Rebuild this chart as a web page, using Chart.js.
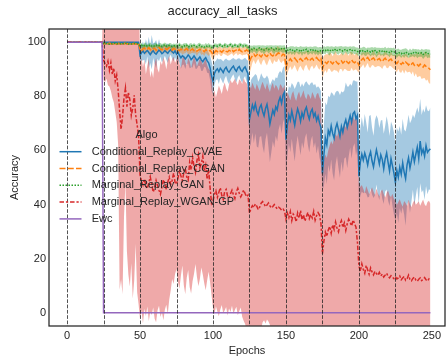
<!DOCTYPE html>
<html>
<head>
<meta charset="utf-8">
<script src="https://cdn.jsdelivr.net/npm/chart.js@4.4.0/dist/chart.umd.min.js"></script>
<style>
html, body { margin: 0; padding: 0; background: #fff; }
</style>
</head>
<body>
<canvas id="accChart" width="446" height="358"></canvas>
<script>
// Values (one value per epoch, rows of 25 epochs)
const algoNames = ['Conditional_Replay_CVAE', 'Conditional_Replay_CGAN', 'Marginal_Replay_GAN', 'Marginal_Replay_WGAN-GP', 'Ewc'];
const xTicks = [0, 50, 100, 150, 200, 250];
const yTicks = [0, 20, 40, 60, 80, 100];
const taskBoundaries = [0, 25, 50, 75, 100, 125, 150, 175, 200, 225];

const cvaeMean = [
  100,100,100,100,100,100,100,100,100,100,100,100,100,100,100,100,100,100,100,100,100,100,100,100,100,
  100,100,100,100,100,100,100,100,100,100,100,100,100,100,100,100,100,100,100,100,100,100,100,100,100,
  95.2,96.1,96.8,95.9,96.5,97.0,96.2,95.4,96.3,96.9,96.0,95.6,96.4,97.1,96.6,95.8,96.2,96.9,96.4,95.9,96.7,97.2,96.5,96.0,96.8,
  95.6,96.3,95.1,94.2,95.0,94.6,93.8,94.5,95.3,94.7,93.6,94.2,95.0,94.1,93.2,93.9,94.6,93.5,92.8,93.7,94.3,93.1,92.4,90.6,87.5,
  85.6,88.5,89.6,90.2,89.1,90.4,89.7,88.8,90.1,90.8,89.5,88.9,89.8,90.6,91.2,90.0,89.3,90.5,91.0,89.8,89.2,90.3,90.9,89.6,88.4,
  71.5,74.2,76.8,75.1,77.3,74.6,73.2,75.8,76.9,74.4,72.8,75.5,77.1,73.9,69.8,72.4,74.9,73.3,76.2,75.0,78.1,79.6,77.4,80.5,81.6,
  64.0,69.5,73.1,71.2,74.6,72.0,69.3,72.8,75.4,73.6,70.8,73.9,72.1,74.8,76.0,73.4,71.6,74.2,75.3,72.5,73.8,71.0,72.7,70.2,68.4,
  51.5,58.3,64.6,62.1,67.4,65.8,69.1,66.3,64.5,68.2,70.0,67.6,65.2,68.9,66.7,69.6,71.3,68.5,70.7,72.9,70.4,73.6,74.3,71.8,73.0,
  50.5,55.8,58.6,56.4,59.0,57.2,54.6,57.8,59.5,56.1,53.9,57.3,60.2,57.6,55.0,58.4,56.7,53.2,56.9,59.1,55.6,52.4,57.0,54.3,51.5,
  48.2,52.6,50.1,53.8,51.2,55.4,52.0,49.6,54.7,57.3,53.5,56.2,59.4,55.8,58.6,61.2,57.0,63.5,58.8,60.4,57.9,61.8,59.3,60.1,60.6
];
const cvaeSd = [
  0,0,0,0,0,0,0,0,0,0,0,0,0,0,0,0,0,0,0,0,0,0,0,0,0,
  0,0,0,0,0,0,0,0,0,0,0,0,0,0,0,0,0,0,0,0,0,0,0,0,0,
  2.1,2.8,3.5,2.4,4.6,2.2,5.8,3.1,6.4,2.7,3.9,5.2,2.5,4.1,2.0,3.3,2.6,1.9,2.8,3.6,2.2,1.8,2.5,3.0,2.3,
  2.4,3.1,2.6,4.0,3.4,2.8,3.7,2.5,3.2,4.3,2.9,3.5,2.7,3.9,3.0,2.6,3.4,4.1,3.3,2.8,3.6,4.4,3.8,4.6,5.5,
  5.0,4.2,3.6,3.9,4.5,3.4,3.8,4.1,3.5,3.2,3.9,4.4,3.6,3.3,3.0,3.7,4.2,3.5,3.1,3.8,4.3,3.6,3.4,4.0,4.8,
  10.5,11.8,10.2,12.4,11.0,13.1,12.2,10.8,11.6,12.9,13.8,11.4,10.6,12.7,14.2,13.0,11.5,12.3,10.9,11.7,10.4,9.8,11.2,10.1,9.6,
  12.8,11.4,10.6,11.9,10.3,12.1,13.4,11.2,10.0,11.8,12.6,10.9,11.5,10.2,9.6,11.3,12.4,10.7,9.9,11.6,10.8,12.2,11.0,12.9,13.5,
  6.0,11.5,13.2,14.6,12.8,13.9,12.4,14.8,15.6,13.3,12.1,14.2,15.3,13.0,14.7,12.6,13.8,15.1,12.9,11.8,13.5,12.3,11.6,13.7,12.5,
  10.0,12.6,13.8,12.2,14.5,13.1,12.0,14.9,13.6,12.4,11.5,13.9,12.8,14.1,13.3,12.7,14.6,13.0,12.1,13.5,14.2,12.9,13.7,14.8,15.2,
  14.1,15.8,16.9,15.2,14.6,16.3,15.7,17.4,14.8,15.9,16.6,15.1,13.9,16.2,15.4,14.7,16.8,15.6,14.3,15.0,16.1,14.9,15.5,14.4,15.3
];

const cganMean = [
  100,100,100,100,100,100,100,100,100,100,100,100,100,100,100,100,100,100,100,100,100,100,100,100,100,
  99.5,99.6,99.4,99.5,99.7,99.5,99.4,99.6,99.5,99.3,99.6,99.5,99.4,99.6,99.5,99.7,99.4,99.5,99.6,99.3,99.5,99.6,99.4,99.5,99.6,
  97.2,96.8,97.6,97.9,97.1,97.4,98.0,97.3,96.9,97.5,97.8,97.0,97.6,98.1,97.4,97.2,97.7,97.9,97.3,97.6,98.0,97.5,97.1,97.8,97.4,
  97.6,97.2,96.9,97.5,97.1,96.8,97.3,97.7,97.0,96.6,97.2,97.5,96.9,97.3,96.7,97.1,97.4,96.8,97.0,96.5,97.2,96.9,96.6,97.0,96.3,
  95.4,96.2,96.9,96.5,97.1,96.7,96.3,96.9,97.2,96.6,96.4,97.0,96.8,97.3,96.5,96.9,97.1,96.6,97.4,96.8,96.5,97.0,96.7,97.2,96.9,
  92.8,94.1,95.0,95.6,94.8,95.3,95.9,95.1,94.6,95.4,95.8,95.0,94.7,95.5,96.0,95.2,94.9,95.6,95.1,95.7,96.1,95.3,95.0,95.6,95.4,
  90.6,92.4,93.2,93.9,93.1,93.6,94.2,93.4,92.8,93.5,94.0,93.3,92.9,93.8,94.3,93.5,93.0,93.7,94.1,93.4,93.8,94.4,93.6,93.2,93.9,
  90.2,91.8,92.6,92.1,92.9,93.3,92.5,92.0,92.8,93.2,92.4,91.9,92.7,93.1,92.3,92.8,93.4,92.6,92.2,92.9,93.5,92.7,92.4,93.0,92.6,
  91.5,92.9,93.6,94.1,93.3,93.8,94.4,93.5,93.0,93.9,94.2,93.4,93.1,93.7,94.0,93.2,92.8,93.6,94.1,93.3,92.9,93.5,93.8,93.0,92.7,
  92.6,92.1,92.9,92.4,91.8,92.5,92.0,92.7,92.2,91.6,92.3,91.9,92.4,91.5,92.0,91.7,91.2,91.9,91.4,90.8,91.6,91.1,90.7,90.4,89.8
];
const cganSd = [
  0,0,0,0,0,0,0,0,0,0,0,0,0,0,0,0,0,0,0,0,0,0,0,0,0,
  0.4,0.5,0.3,0.4,0.5,0.4,0.3,0.5,0.4,0.4,0.5,0.3,0.4,0.5,0.4,0.3,0.4,0.5,0.4,0.3,0.5,0.4,0.4,0.5,0.3,
  1.6,1.2,1.0,1.4,1.8,1.1,0.9,1.3,1.5,1.0,1.2,1.7,1.1,0.9,1.4,1.2,1.0,1.3,1.6,1.1,0.9,1.2,1.4,1.0,1.3,
  1.2,1.5,1.1,1.3,1.7,1.0,1.4,1.2,1.6,1.1,1.3,1.5,1.0,1.4,1.8,1.2,1.1,1.5,1.3,1.6,1.2,1.4,1.7,1.3,1.9,
  2.2,1.6,1.3,1.5,1.2,1.7,1.4,1.1,1.6,1.3,1.5,1.8,1.2,1.4,1.6,1.3,1.1,1.5,1.7,1.2,1.4,1.6,1.3,1.5,1.8,
  4.5,3.8,2.6,2.2,2.9,2.4,2.0,2.7,3.1,2.3,2.1,2.8,3.3,2.5,2.0,2.6,3.0,2.2,2.4,2.9,2.1,2.5,2.7,2.3,2.6,
  4.6,3.9,3.2,2.8,3.4,3.0,2.6,3.3,3.7,2.9,2.7,3.1,3.5,2.8,2.5,3.2,3.6,2.9,2.7,3.3,3.0,2.6,3.1,3.4,2.8,
  3.8,3.2,2.9,3.5,2.7,3.1,3.4,2.8,3.0,3.6,2.9,3.3,2.6,3.0,3.2,2.7,3.4,3.1,2.8,3.5,2.9,3.2,2.7,3.0,3.3,
  2.8,2.4,2.6,2.2,2.9,2.5,2.1,2.7,2.4,2.3,2.8,2.6,2.2,2.5,2.9,2.4,2.7,2.3,2.6,2.8,2.5,2.2,2.7,2.4,2.6,
  2.9,3.3,2.7,3.5,3.1,2.8,3.6,3.0,3.4,2.6,3.2,3.8,3.1,4.2,3.5,4.6,3.9,4.4,5.0,4.1,4.8,5.3,4.5,5.6,5.1
];

const ganMean = [
  100,100,100,100,100,100,100,100,100,100,100,100,100,100,100,100,100,100,100,100,100,100,100,100,100,
  99.5,99.4,99.6,99.5,99.3,99.6,99.4,99.5,99.7,99.4,99.5,99.6,99.3,99.5,99.4,99.6,99.5,99.3,99.6,99.4,99.5,99.6,99.4,99.5,99.3,
  98.6,98.9,98.4,98.8,99.0,98.5,98.7,99.1,98.6,98.3,98.8,99.0,98.5,98.7,98.9,98.4,98.8,99.1,98.6,98.5,98.9,98.7,98.4,98.8,98.6,
  98.7,98.4,98.9,98.6,98.3,98.8,98.5,98.9,98.2,98.6,98.7,98.4,98.8,98.5,98.3,98.7,98.9,98.4,98.6,98.2,98.7,98.5,98.8,98.4,98.1,
  98.3,98.7,98.9,98.5,98.8,99.0,98.6,98.4,98.9,98.7,98.5,98.8,99.1,98.6,98.4,98.9,98.7,98.5,98.8,99.0,98.6,98.7,98.9,98.5,98.3,
  97.1,97.6,97.3,97.8,97.5,97.2,97.7,97.9,97.4,97.6,97.1,97.5,97.8,97.3,97.6,97.9,97.4,97.2,97.7,97.5,97.3,97.8,97.6,97.4,97.7,
  96.6,97.1,96.8,97.3,96.9,97.2,96.7,97.4,97.0,96.8,97.3,96.6,97.1,96.9,97.4,96.7,97.0,97.2,96.8,97.3,96.9,97.1,96.6,97.0,96.8,
  96.8,97.2,96.9,97.4,97.0,96.7,97.3,97.1,96.8,97.5,97.0,96.9,97.3,97.2,96.7,97.1,97.4,96.9,97.0,97.3,96.8,97.2,97.0,96.9,96.6,
  96.4,96.8,96.5,97.0,96.6,96.3,96.9,96.7,96.4,96.8,96.5,96.9,96.2,96.6,96.8,96.4,96.7,96.3,96.9,96.5,96.6,96.2,96.7,96.4,96.5,
  96.1,95.8,96.3,96.0,95.7,96.2,95.9,96.4,96.0,95.6,96.1,95.8,96.3,95.9,96.2,95.7,96.0,95.8,96.1,95.5,95.9,96.2,95.7,95.9,95.6
];
const ganSd = [
  0,0,0,0,0,0,0,0,0,0,0,0,0,0,0,0,0,0,0,0,0,0,0,0,0,
  0.3,0.4,0.3,0.4,0.3,0.4,0.3,0.4,0.3,0.4,0.3,0.4,0.3,0.4,0.3,0.4,0.3,0.4,0.3,0.4,0.3,0.4,0.3,0.4,0.3,
  0.8,0.9,0.7,1.0,0.8,0.6,0.9,0.8,0.7,1.0,0.9,0.8,0.7,0.9,0.8,1.0,0.7,0.8,0.9,0.7,0.8,1.0,0.9,0.7,0.8,
  0.9,0.8,1.0,0.7,0.9,0.8,1.1,0.8,0.7,0.9,1.0,0.8,0.9,0.7,0.8,1.0,0.9,0.8,0.7,0.9,1.0,0.8,0.9,0.8,1.0,
  0.7,0.8,0.6,0.9,0.7,0.8,0.6,0.7,0.9,0.8,0.7,0.6,0.8,0.9,0.7,0.8,0.6,0.7,0.9,0.8,0.7,0.8,0.6,0.9,0.8,
  1.5,1.2,1.4,1.1,1.3,1.6,1.2,1.0,1.4,1.3,1.7,1.2,1.1,1.5,1.3,1.0,1.4,1.6,1.2,1.3,1.5,1.1,1.2,1.4,1.3,
  1.3,1.1,1.4,1.2,1.6,1.3,1.5,1.1,1.2,1.4,1.3,1.7,1.2,1.4,1.1,1.5,1.3,1.2,1.4,1.1,1.6,1.3,1.5,1.2,1.4,
  1.2,1.4,1.3,1.1,1.5,1.6,1.2,1.3,1.4,1.1,1.3,1.5,1.2,1.4,1.6,1.3,1.1,1.4,1.3,1.2,1.5,1.3,1.4,1.2,1.5,
  1.4,1.2,1.5,1.3,1.6,1.4,1.2,1.3,1.7,1.4,1.5,1.3,1.8,1.4,1.2,1.5,1.3,1.6,1.4,1.2,1.5,1.7,1.3,1.4,1.6,
  1.3,1.6,1.4,1.2,1.5,1.3,1.7,1.4,1.5,1.3,1.6,1.2,1.4,1.5,1.3,1.6,1.4,1.2,1.5,1.7,1.4,1.3,1.6,1.4,1.5
];

const wganMean = [
  100,100,100,100,100,100,100,100,100,100,100,100,100,100,100,100,100,100,100,100,100,100,100,100,100,
  93.4,92.1,91.2,93.0,89.6,92.4,88.1,90.5,85.7,87.9,82.3,74.6,67.8,72.5,79.4,83.1,76.2,81.5,78.8,72.9,75.6,80.4,73.1,69.5,65.2,
  51.0,48.6,47.2,49.5,46.8,45.9,48.1,50.3,47.5,44.6,46.2,48.9,47.0,45.3,43.8,46.5,49.2,47.8,45.6,48.3,50.1,47.4,49.0,51.6,48.2,
  47.5,49.8,52.3,50.6,48.9,51.7,53.4,50.2,49.1,55.6,52.8,57.4,54.1,51.9,56.3,58.5,53.7,55.2,57.9,52.4,54.6,49.3,53.0,46.2,40.4,
  41.2,43.8,45.1,42.7,44.5,46.2,43.4,41.9,44.8,45.6,43.1,42.4,44.0,45.3,43.6,42.2,44.7,46.0,44.2,42.8,43.9,45.4,44.1,42.9,43.5,
  36.8,38.5,39.6,38.9,40.2,39.4,38.1,39.0,40.5,41.1,40.3,39.2,39.8,40.6,39.5,38.7,39.3,40.0,39.1,38.4,39.0,38.6,37.9,38.3,37.6,
  34.6,36.8,35.2,37.4,34.1,36.5,35.7,33.6,36.9,35.0,37.8,34.4,36.2,33.9,35.5,37.1,34.8,36.3,35.1,37.5,34.2,35.9,37.0,36.1,33.0,
  21.8,26.5,29.8,28.2,30.6,31.9,29.4,32.5,30.8,33.6,31.2,29.9,32.8,34.1,31.5,33.2,30.4,32.9,34.6,33.4,32.1,34.3,33.0,31.6,26.0,
  17.2,15.4,18.1,16.0,14.6,17.5,15.8,14.2,16.6,15.1,14.0,15.3,14.5,13.8,14.9,13.6,14.3,13.2,13.9,14.6,13.4,12.9,13.7,13.1,12.6,
  13.3,12.5,12.9,13.6,12.2,12.8,13.4,12.0,12.6,13.9,12.3,11.8,12.7,13.2,12.1,11.6,12.4,12.9,11.9,12.3,13.0,12.2,11.7,12.5,11.9
];
const wganLow = [
  100,100,100,100,100,100,100,100,100,100,100,100,100,100,100,100,100,100,100,100,100,100,100,100,100,
  86.0,85.2,86.5,84.1,83.6,82.0,79.5,77.8,74.2,70.5,62.0,8.5,12.4,6.8,35.2,48.0,22.6,14.1,9.7,18.3,5.2,11.9,25.4,7.6,3.1,
  -2.5,0.8,-4.0,1.5,-1.2,2.3,-3.1,0.4,-0.8,1.9,-2.2,-3.5,0.9,2.6,-1.6,0.2,-2.8,1.1,3.0,-0.5,4.8,8.2,12.5,10.6,14.3,
  16.2,11.4,8.9,13.7,17.5,10.2,6.8,12.9,15.8,9.5,7.1,11.6,14.4,18.0,13.2,9.8,12.5,16.7,14.1,10.9,8.3,12.0,15.2,11.3,6.5,
  1.8,-0.6,2.4,0.5,-1.3,1.2,2.9,-0.2,0.8,2.1,-1.0,1.6,0.3,2.6,-0.4,1.0,2.2,-0.9,0.6,1.9,-1.5,-3.0,-4.2,-6.0,-8.0,
  -9.0,-8.0,-7.5,-8.0,-7.0,-6.5,-7.0,-8.0,-6.0,-3.5,-2.8,-4.0,-2.5,-3.2,-4.4,-6.8,-8.5,-9.0,-10.0,-8.0,-9.0,-10.0,-11.0,-10.0,-12.0,
  -10.0,-7.9,-9.7,-8.8,-12.7,-9.0,-8.3,-11.1,-6.7,-11.8,-8.8,-11.9,-9.9,-12.1,-7.8,-6.9,-10.7,-6.4,-11.4,-8.4,-10.5,-9.0,-7.3,-7.4,-12.5,
  -12.0,-9.5,-8.2,-10.6,-7.8,-9.9,-11.3,-8.6,-10.1,-7.5,-9.2,-11.0,-8.4,-7.9,-10.4,-9.1,-8.0,-10.8,-7.7,-9.6,-11.5,-8.3,-9.8,-10.2,-13.0,
  -14.0,-15.2,-13.1,-14.6,-16.0,-13.5,-14.9,-15.7,-13.8,-14.4,-15.5,-16.2,-14.1,-15.0,-16.4,-14.7,-15.3,-16.1,-14.3,-15.8,-16.5,-14.8,-15.6,-16.3,-15.1,
  -15.4,-16.6,-15.0,-14.2,-16.1,-17.0,-15.3,-16.4,-15.8,-14.5,-16.9,-17.2,-15.6,-14.9,-16.2,-17.1,-15.5,-16.7,-15.2,-14.6,-16.0,-17.3,-15.9,-16.5,-15.7
];
const wganHigh = [
  100,100,100,100,100,100,100,100,100,100,100,100,100,100,100,100,100,100,100,100,100,100,100,100,100,
  125,125,125,125,125,125,125,125,125,125,125,125,125,125,125,125,125,125,125,125,125,125,125,125,125,
  92.5,94.1,90.8,93.6,88.2,91.4,93.9,87.0,89.5,86.8,92.2,94.3,90.1,88.7,93.0,91.6,94.5,92.8,89.9,93.4,95.0,91.8,93.7,94.6,92.4,
  93.5,94.8,92.0,90.6,93.9,95.1,92.7,91.3,94.2,93.0,90.4,92.8,94.6,93.3,91.0,92.5,94.0,93.1,91.7,92.9,93.8,91.5,90.2,89.6,87.5,
  80.5,82.3,79.6,81.8,84.0,82.6,80.9,83.5,85.1,83.0,81.7,84.4,86.0,84.8,85.6,86.5,85.2,84.1,86.3,85.7,84.6,86.8,85.4,84.9,83.2,
  84.2,82.9,85.1,83.6,82.4,84.7,83.3,81.9,84.0,85.4,83.8,82.5,84.9,83.1,81.6,83.7,85.0,82.8,84.3,83.5,82.1,84.6,83.9,82.7,84.4,
  79.2,81.5,80.1,78.6,80.9,82.0,79.7,78.3,80.5,81.8,79.4,80.7,82.3,79.9,78.8,81.1,80.3,79.0,81.6,80.4,78.9,80.8,81.3,79.6,78.5,
  55.0,56.8,58.5,57.2,60.1,61.9,63.5,62.2,64.8,66.0,65.1,66.9,68.3,67.0,68.8,69.6,68.4,70.2,71.5,70.6,71.9,72.6,71.1,72.8,70.5,
  48.0,46.5,47.2,45.8,44.3,46.9,45.5,43.8,45.1,46.4,44.7,43.5,45.9,44.2,43.0,44.8,45.6,43.9,42.6,44.4,45.2,43.3,42.8,44.0,42.1,
  41.5,39.8,40.9,42.0,40.4,39.2,41.3,40.6,39.5,41.8,40.2,39.0,40.7,41.6,39.9,40.5,41.2,39.6,40.8,41.9,40.1,39.4,40.9,41.4,40.3
];

const ewcMean = [
  100,100,100,100,100,100,100,100,100,100,100,100,100,100,100,100,100,100,100,100,100,100,100,100,100,
  0,0,0,0,0,0,0,0,0,0,0,0,0,0,0,0,0,0,0,0,0,0,0,0,0,
  0,0,0,0,0,0,0,0,0,0,0,0,0,0,0,0,0,0,0,0,0,0,0,0,0,
  0,0,0,0,0,0,0,0,0,0,0,0,0,0,0,0,0,0,0,0,0,0,0,0,0,
  0,0,0,0,0,0,0,0,0,0,0,0,0,0,0,0,0,0,0,0,0,0,0,0,0,
  0,0,0,0,0,0,0,0,0,0,0,0,0,0,0,0,0,0,0,0,0,0,0,0,0,
  0,0,0,0,0,0,0,0,0,0,0,0,0,0,0,0,0,0,0,0,0,0,0,0,0,
  0,0,0,0,0,0,0,0,0,0,0,0,0,0,0,0,0,0,0,0,0,0,0,0,0,
  0,0,0,0,0,0,0,0,0,0,0,0,0,0,0,0,0,0,0,0,0,0,0,0,0,
  0,0,0,0,0,0,0,0,0,0,0,0,0,0,0,0,0,0,0,0,0,0,0,0,0
];

const epochs = cvaeMean.map((_, i) => i);

// line styles (seaborn defaults)
const lineStyles = [
  { color: '#1f77b4', band: 'rgba(31,119,180,0.4)', dash: [] },
  { color: '#ff7f0e', band: 'rgba(255,127,14,0.4)', dash: [6, 2.25] },
  { color: '#2ca02c', band: 'rgba(44,160,44,0.4)', dash: [1.5, 1.5] },
  { color: '#d62728', band: 'rgba(214,39,40,0.4)', dash: [4.5, 1.9, 2.25, 1.9] },
  { color: '#9467bd', band: null, dash: [] }
];

const FONT = '"Liberation Sans", Arial, sans-serif';
const TEXT = '#262626';

function pts(arr) {
  return arr.map((v, i) => ({ x: epochs[i], y: v }));
}

// band = pair of datasets, upper one filled down to the lower one
function band(lo, hi, color, order) {
  return [
    { data: pts(lo), borderWidth: 0, borderColor: 'rgba(0,0,0,0)', pointRadius: 0, fill: false, order: order },
    { data: pts(hi), borderWidth: 0, borderColor: 'rgba(0,0,0,0)', pointRadius: 0, fill: '-1', backgroundColor: color, order: order }
  ];
}

function line(arr, st, order) {
  return { data: pts(arr), borderColor: st.color, borderWidth: 1.5, borderDash: st.dash, pointRadius: 0, fill: false, order: order };
}

const lower = (m, s) => m.map((v, i) => v - s[i]);
const upper = (m, s) => m.map((v, i) => v + s[i]);

const datasets = [
  ...band(lower(cvaeMean, cvaeSd), upper(cvaeMean, cvaeSd), lineStyles[0].band, 14),
  ...band(lower(cganMean, cganSd), upper(cganMean, cganSd), lineStyles[1].band, 13),
  ...band(lower(ganMean, ganSd), upper(ganMean, ganSd), lineStyles[2].band, 12),
  ...band(wganLow, wganHigh, lineStyles[3].band, 11),
  line(cvaeMean, lineStyles[0], 5),
  line(cganMean, lineStyles[1], 4),
  line(ganMean, lineStyles[2], 3),
  line(wganMean, lineStyles[3], 2),
  line(ewcMean, lineStyles[4], 1)
];

// dashed task boundaries
const boundaryPlugin = {
  id: 'boundaries',
  afterDatasetsDraw(chart) {
    const { ctx, chartArea } = chart;
    const xs = chart.scales.x;
    ctx.save();
    ctx.strokeStyle = 'rgba(30,30,30,0.85)';
    ctx.lineWidth = 0.9;
    ctx.setLineDash([3.7, 1.6]);
    taskBoundaries.forEach(v => {
      const px = Math.round(xs.getPixelForValue(v)) + 0.5;
      ctx.beginPath();
      ctx.moveTo(px, chartArea.top);
      ctx.lineTo(px, chartArea.bottom);
      ctx.stroke();
    });
    ctx.restore();
  }
};

// axes frame + legend inside the plot
const framePlugin = {
  id: 'frameLegend',
  afterDraw(chart) {
    const { ctx, chartArea } = chart;
    ctx.save();
    ctx.strokeStyle = TEXT;
    ctx.lineWidth = 1.25;
    ctx.strokeRect(chartArea.left, chartArea.top, chartArea.right - chartArea.left, chartArea.bottom - chartArea.top);

    ctx.font = '11px ' + FONT;
    ctx.fillStyle = TEXT;
    ctx.textBaseline = 'middle';
    ctx.textAlign = 'center';
    ctx.fillText('Algo', 146.5, 135);
    ctx.textAlign = 'left';
    algoNames.forEach((name, i) => {
      const y = 151.7 + i * 16.8;
      const st = lineStyles[i];
      ctx.strokeStyle = st.color;
      ctx.lineWidth = 1.5;
      ctx.setLineDash(st.dash);
      ctx.beginPath();
      ctx.moveTo(59.5, y);
      ctx.lineTo(81.5, y);
      ctx.stroke();
      ctx.setLineDash([]);
      ctx.fillStyle = TEXT;
      ctx.fillText(name, 91.7, y);
    });
    ctx.restore();
  }
};

new Chart(document.getElementById('accChart'), {
  type: 'line',
  data: { datasets: datasets },
  options: {
    responsive: false,
    animation: false,
    devicePixelRatio: 1,
    layout: { padding: { left: 0, right: 1, top: 0, bottom: 0 } },
    plugins: {
      legend: { display: false },
      tooltip: { enabled: false },
      title: {
        display: true,
        text: 'accuracy_all_tasks',
        color: TEXT,
        font: { family: FONT, size: 13, weight: 'normal', lineHeight: 1.2 },
        padding: { top: 3.5, bottom: 9.9 }
      }
    },
    scales: {
      x: {
        type: 'linear',
        min: -12.4,
        max: 259,
        grid: { display: false, drawTicks: false },
        border: { display: false },
        afterBuildTicks: s => { s.ticks = xTicks.map(v => ({ value: v })); },
        afterFit: s => { s.height = 32; },
        ticks: { padding: 3, color: TEXT, font: { family: FONT, size: 11 }, maxRotation: 0, autoSkip: false },
        title: { display: true, text: 'Epochs', color: TEXT, font: { family: FONT, size: 11 }, padding: { top: 0, bottom: 0.3 } }
      },
      y: {
        min: -4.9,
        max: 104.9,
        grid: { display: false, drawTicks: false },
        border: { display: false },
        afterBuildTicks: s => { s.ticks = yTicks.map(v => ({ value: v })); },
        afterFit: s => { s.width = 49; },
        ticks: { padding: 3, color: TEXT, font: { family: FONT, size: 11 } },
        title: { display: true, text: 'Accuracy', color: TEXT, font: { family: FONT, size: 11 }, padding: { top: 8.5, bottom: 0 } }
      }
    }
  },
  plugins: [boundaryPlugin, framePlugin]
});
</script>
</body>
</html>
